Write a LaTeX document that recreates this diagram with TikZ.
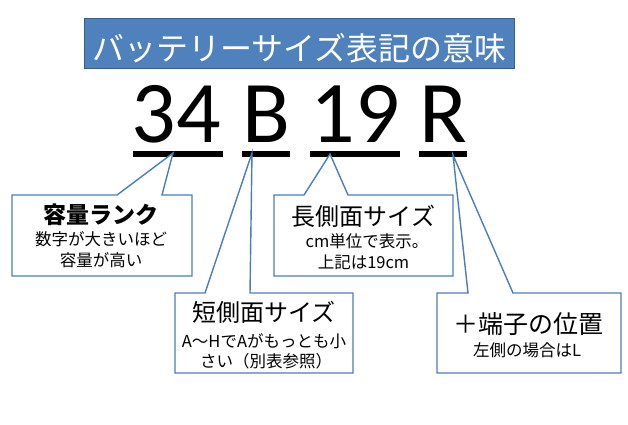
\documentclass[tikz,border=0pt]{standalone}
\usepackage{fontspec}
\setmainfont{Noto Sans CJK JP}
\newfontfamily\bigfont{Carlito}
\newfontfamily\jpfont{Noto Sans CJK JP}
\definecolor{titlefill}{HTML}{4F81BD}
\definecolor{titledraw}{HTML}{385D8A}
\definecolor{callline}{HTML}{4A7EBB}
\tikzset{
  px/.style={x=1pt,y=-1pt},
  bignum/.style={anchor=base,inner sep=0pt,font=\bigfont\fontsize{88}{88}\selectfont},
  uline/.style={line width=6.5pt,black},
  callout/.style={draw=callline,line width=1.4pt,fill=white,line join=miter},
  headtxt/.style={anchor=base,inner sep=0pt,font=\jpfont\fontsize{24}{24}\selectfont},
  subtxt/.style={anchor=base,inner sep=0pt,font=\jpfont\fontsize{16.5}{16.5}\selectfont},
}
\begin{document}
\begin{tikzpicture}[px]
\useasboundingbox (0,0) rectangle (628,424);
\fill[white] (0,0) rectangle (628,424);
% title
\node[draw=titledraw,fill=titlefill,line width=1pt,minimum width=430pt,minimum height=50pt,inner sep=0pt] (titlebox) at (299.5,43) {};
\node[anchor=base,inner sep=0pt,text=white,font=\jpfont\fontsize{32}{32}\selectfont] (title) at (299.5,60) {バッテリーサイズ表記の意味};
% big code
\node[bignum] (n34) at (176.5,142) {34};
\node[bignum] (nB) at (266,142) {B};
\node[bignum] (n19) at (355,142) {19};
\node[bignum] (nR) at (443,142) {R};
% underlines
\coordinate (u34a) at (133,154); \coordinate (u34b) at (223,154);
\coordinate (uBa) at (242,154); \coordinate (uBb) at (290,154);
\coordinate (u19a) at (310,154); \coordinate (u19b) at (400,154);
\coordinate (uRa) at (419,154); \coordinate (uRb) at (467,154);
\draw[uline] (u34a) -- (u34b);
\draw[uline] (uBa) -- (uBb);
\draw[uline] (u19a) -- (u19b);
\draw[uline] (uRa) -- (uRb);
% callout tips
\coordinate (t34) at (173,153);
\coordinate (tB) at (252,153);
\coordinate (t19) at (330,154);
\coordinate (tR) at (453,155);
% callout 1
\draw[callout] (12,195) -- (117,195) -- (t34) -- (162,195) -- (192,195) -- (192,276) -- (12,276) -- cycle;
\node[anchor=base,inner sep=0pt,font=\jpfont\bfseries\fontsize{23}{23}\selectfont] (c1h) at (101,223) {容量ランク};
\node[subtxt] (c1a) at (101,245.5) {数字が大きいほど};
\node[subtxt] (c1b) at (101,266) {容量が高い};
% callout long side
\draw[callout] (274,195) -- (304,195) -- (t19) -- (348,195) -- (453,195) -- (453,276) -- (274,276) -- cycle;
\node[headtxt] (c2h) at (363.5,225) {長側面サイズ};
\node[subtxt] (c2a) at (367,247) {cm単位で表示。};
\node[subtxt] (c2b) at (363.5,268) {上記は19cm};
% callout short side
\draw[callout] (175,293) -- (205,293) -- (tB) -- (250,293) -- (353,293) -- (353,373) -- (175,373) -- cycle;
\node[headtxt] (c3h) at (264,321) {短側面サイズ};
\node[subtxt] (c3a) at (264,347) {A～HでAがもっとも小};
\node[subtxt] (c3b) at (266,367) {さい（別表参照）};
% callout terminal
\draw[callout] (437,293) -- (468,293) -- (tR) -- (513,293) -- (621,293) -- (621,373) -- (437,373) -- cycle;
\node[anchor=base,inner sep=0pt,font=\jpfont\fontsize{25}{25}\selectfont] (c4h) at (528.5,333) {＋端子の位置};
\node[subtxt] (c4a) at (527,356) {左側の場合はL};
\end{tikzpicture}
\end{document}
